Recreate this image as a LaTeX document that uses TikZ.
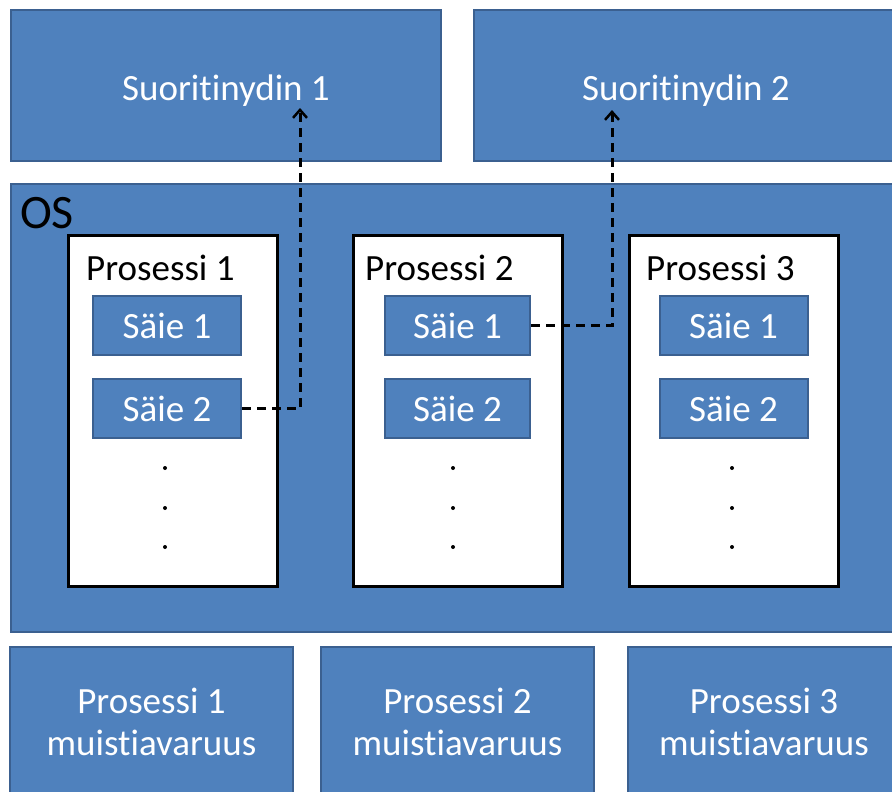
\documentclass[tikz,border=0pt]{standalone}
\usepackage{fontspec}
\setmainfont{Carlito}[Ligatures=NoCommon]
\usetikzlibrary{arrows.meta}
\definecolor{boxblue}{HTML}{4F81BD}
\definecolor{boxedge}{HTML}{3B6090}
\begin{document}
\begin{tikzpicture}[x=1pt,y=-1pt,
  bluebox/.style={draw=boxedge,line width=2pt,fill=boxblue,text=white,inner sep=0pt,
    font=\fontsize{37}{42}\selectfont,align=center},
  procbox/.style={draw=black,line width=3pt,fill=white,inner sep=0pt,minimum width=209pt,minimum height=351pt},
  thread/.style={bluebox,minimum width=148pt,minimum height=59pt},
  plabel/.style={anchor=west,font=\fontsize{37}{42}\selectfont,inner sep=0pt},
  link/.style={dashed,dash pattern=on 9pt off 6pt,line width=3pt,-{Straight Barb[length=8pt,width=14pt,line width=2.5pt]}}]
\useasboundingbox (0,0) rectangle (892,792);
\clip (0,0) rectangle (892,792);
% top cores
\node[bluebox,minimum width=430pt,minimum height=151pt] (core1) at (226,85.5) {\raisebox{-5pt}[\height][\depth]{Suoritinydin 1}};
\node[bluebox,minimum width=424pt,minimum height=151pt] (core2) at (686,85.5) {\raisebox{-5pt}[\height][\depth]{Suoritinydin 2}};
% OS
\node[bluebox,minimum width=889pt,minimum height=448pt] (os) at (455.5,408) {};
\node[plabel,font=\fontsize{48}{50}\selectfont] (oslbl) at (20,213) {OS};
% processes
\node[procbox] (p1) at (172.5,410.5) {};
\node[procbox] (p2) at (457.5,410.5) {};
\node[procbox] (p3) at (733.5,410.5) {};
\node[plabel] (p1l) at (86,268) {Prosessi 1};
\node[plabel] (p2l) at (365,268) {Prosessi 2};
\node[plabel] (p3l) at (646,268) {Prosessi 3};
% threads
\node[thread] (s11) at (167,325.5) {Säie 1};
\node[thread] (s12) at (167,408.5) {Säie 2};
\node[thread,minimum width=145pt] (s21) at (457.5,325.5) {Säie 1};
\node[thread,minimum width=145pt] (s22) at (457.5,408.5) {Säie 2};
\node[thread] (s31) at (733.5,325.5) {Säie 1};
\node[thread] (s32) at (733.5,408.5) {Säie 2};
% dots
\foreach \px in {165,453,732}{
  \foreach \py in {468,508,547}{
    \fill (\px,\py) circle (2pt);
  }
}
% memory
\node[bluebox,minimum width=283pt,minimum height=150pt] (m1) at (151.5,722) {Prosessi 1\\muistiavaruus};
\node[bluebox,minimum width=273pt,minimum height=150pt] (m2) at (457.5,722) {Prosessi 2\\muistiavaruus};
\node[bluebox,minimum width=272pt,minimum height=150pt] (m3) at (764,722) {Prosessi 3\\muistiavaruus};
% links
\coordinate (t1) at (300,108);
\coordinate (t2) at (612,110);
\draw[link] (s12.east) -| (t1);
\draw[link] (s21.east) -| (t2);
\end{tikzpicture}
\end{document}
